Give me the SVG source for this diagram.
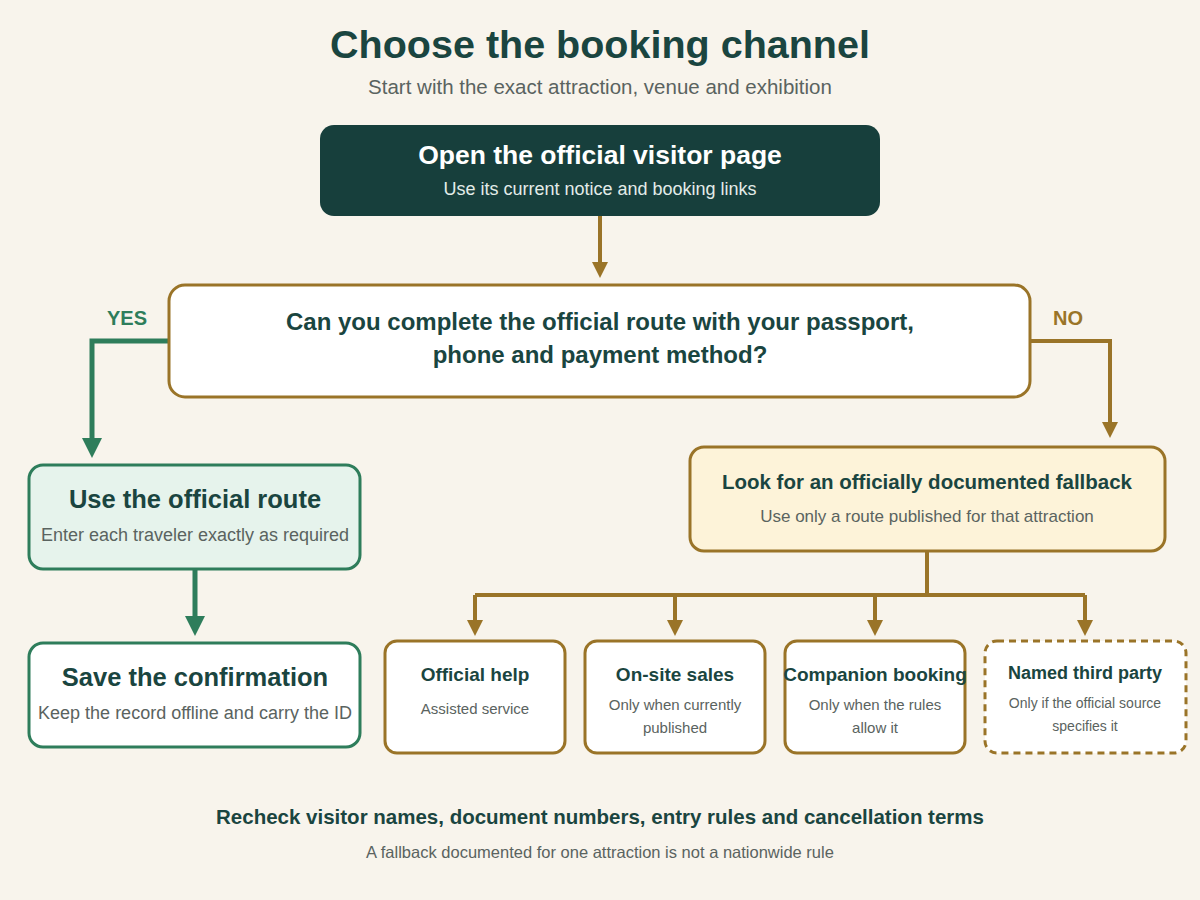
<svg xmlns="http://www.w3.org/2000/svg" width="1200" height="900" viewBox="0 0 1200 900">
<defs>
<marker id="ag" viewBox="0 0 10 10" refX="5" refY="5" markerWidth="4" markerHeight="4" orient="auto"><path d="M0,0L10,5L0,10z" fill="#9a7428"/></marker>
<marker id="ae" viewBox="0 0 10 10" refX="5" refY="5" markerWidth="4" markerHeight="4" orient="auto"><path d="M0,0L10,5L0,10z" fill="#2e7d5b"/></marker>
<style>
text{font-family:"Liberation Sans",Arial,sans-serif;text-anchor:middle}
.t{font-weight:bold;fill:#1a4540}
.s{fill:#5a6360}
.g{stroke:#9a7428;stroke-width:4;fill:none}
.e{stroke:#2e7d5b;stroke-width:5;fill:none}
.box{fill:#fff;stroke:#9a7428;stroke-width:3}
</style>
</defs>
<rect width="1200" height="900" fill="#f8f4ec"/>
<text x="600" y="58" class="t" font-size="39.5">Choose the booking channel</text>
<text x="600" y="94" class="s" font-size="20.5">Start with the exact attraction, venue and exhibition</text>
<g id="connectors">
<path d="M600,216V270" class="g" stroke-width="5" marker-end="url(#ag)"/>
<path d="M169,341H92V448" class="e" marker-end="url(#ae)"/>
<path d="M1030,341H1110V430" class="g" stroke-width="5" marker-end="url(#ag)"/>
<path d="M195,569V626" class="e" stroke-width="6" marker-end="url(#ae)"/>
<path d="M927,551V595M475,595H1085" class="g"/>
<path d="M475,595V628" class="g" marker-end="url(#ag)"/>
<path d="M675,595V628" class="g" marker-end="url(#ag)"/>
<path d="M875,595V628" class="g" marker-end="url(#ag)"/>
<path d="M1085,595V628" class="g" marker-end="url(#ag)"/>
<text x="127" y="325" font-size="20" font-weight="bold" fill="#2e7d5b">YES</text>
<text x="1068" y="325" font-size="20" font-weight="bold" fill="#9a7428">NO</text>
</g>
<g id="start"><rect x="320" y="125" width="560" height="91" rx="14" fill="#173f3c"/>
<text x="600" y="164" font-size="26.5" font-weight="bold" fill="#fff">Open the official visitor page</text>
<text x="600" y="195" font-size="18" fill="#e3ece9">Use its current notice and booking links</text></g>
<g id="question"><rect x="169" y="285" width="861" height="112" rx="16" class="box"/>
<text x="600" y="330" class="t" font-size="24">Can you complete the official route with your passport,</text>
<text x="600" y="363" class="t" font-size="24">phone and payment method?</text></g>
<g id="official"><rect x="29" y="465" width="331" height="104" rx="14" fill="#e6f3ec" stroke="#2e7d5b" stroke-width="3"/>
<text x="195" y="508" class="t" font-size="25.5">Use the official route</text>
<text x="195" y="541" class="s" font-size="18">Enter each traveler exactly as required</text></g>
<g id="save"><rect x="29" y="643" width="331" height="104" rx="14" fill="#fff" stroke="#2e7d5b" stroke-width="3"/>
<text x="195" y="686" class="t" font-size="25.5">Save the confirmation</text>
<text x="195" y="719" class="s" font-size="18">Keep the record offline and carry the ID</text></g>
<g id="fallback"><rect x="690" y="447" width="475" height="104" rx="14" fill="#fdf3d9" stroke="#9a7428" stroke-width="3"/>
<text x="927" y="489" class="t" font-size="20.5">Look for an officially documented fallback</text>
<text x="927" y="522" class="s" font-size="17">Use only a route published for that attraction</text></g>
<g id="help"><rect x="385" y="641" width="180" height="112" rx="12" class="box"/>
<text x="475" y="681" class="t" font-size="19">Official help</text>
<text x="475" y="714" class="s" font-size="15">Assisted service</text></g>
<g id="onsite"><rect x="585" y="641" width="180" height="112" rx="12" class="box"/>
<text x="675" y="681" class="t" font-size="19">On-site sales</text>
<text x="675" y="710" class="s" font-size="15">Only when currently</text>
<text x="675" y="733" class="s" font-size="15">published</text></g>
<g id="companion"><rect x="785" y="641" width="180" height="112" rx="12" class="box"/>
<text x="875" y="681" class="t" font-size="19">Companion booking</text>
<text x="875" y="710" class="s" font-size="15">Only when the rules</text>
<text x="875" y="733" class="s" font-size="15">allow it</text></g>
<g id="third"><rect x="985" y="641" width="201" height="112" rx="12" fill="#fff" stroke="#9a7428" stroke-width="3" stroke-dasharray="7 5"/>
<text x="1085" y="679" class="t" font-size="18">Named third party</text>
<text x="1085" y="708" class="s" font-size="14">Only if the official source</text>
<text x="1085" y="731" class="s" font-size="14">specifies it</text></g>
<text x="600" y="824" class="t" font-size="20.5">Recheck visitor names, document numbers, entry rules and cancellation terms</text>
<text x="600" y="858" class="s" font-size="16.5">A fallback documented for one attraction is not a nationwide rule</text>
</svg>
